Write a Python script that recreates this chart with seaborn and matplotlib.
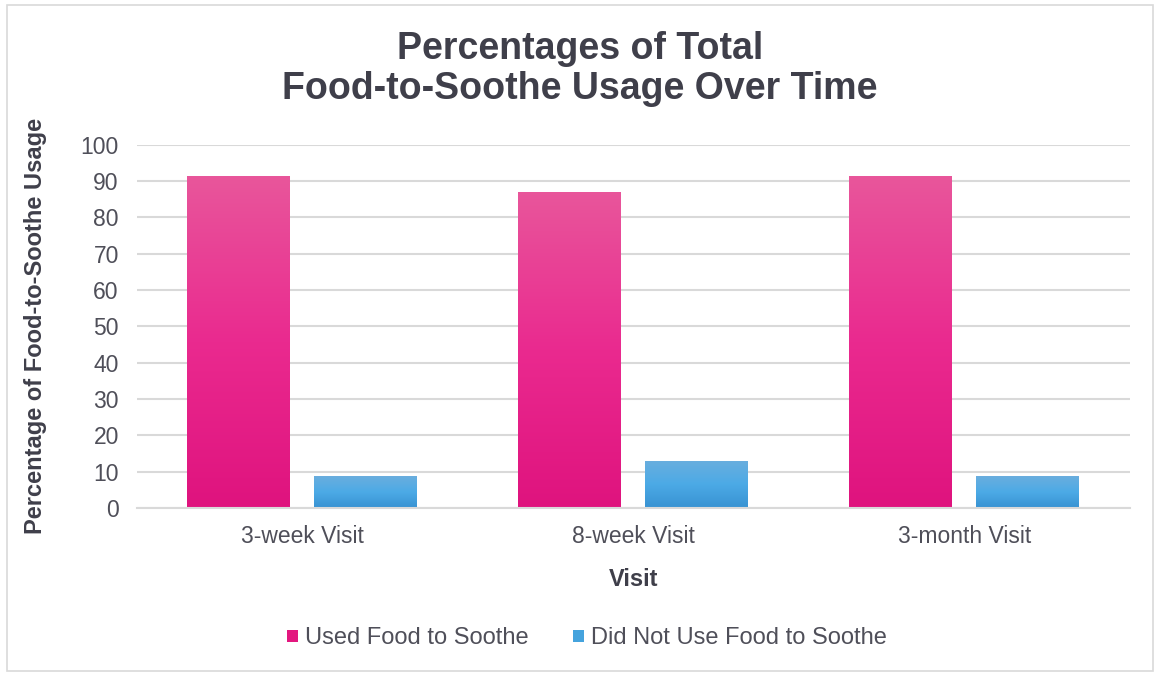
import numpy as np
import pandas as pd
import matplotlib
matplotlib.use("Agg")
import matplotlib.pyplot as plt
import seaborn as sns
from matplotlib.colors import LinearSegmentedColormap
from matplotlib.patches import Rectangle, Patch

visits = ["3-week Visit", "8-week Visit", "3-month Visit"]
used = [91.2, 87.0, 91.2]
not_used = [8.8, 13.0, 8.8]
series = ["Used Food to Soothe", "Did Not Use Food to Soothe"]
yticks = [0, 10, 20, 30, 40, 50, 60, 70, 80, 90, 100]

df = pd.DataFrame({
    "Visit": visits * 2,
    "Value": used + not_used,
    "Series": [series[0]] * 3 + [series[1]] * 3,
})

sns.set_theme(style="white")
plt.rcParams["font.family"] = ["Liberation Sans", "DejaVu Sans"]

TITLE_C = "#3F3F4A"
TICK_C = "#4F4F59"

fig = plt.figure(figsize=(11.6, 6.74), dpi=100)
ax = fig.add_axes([0.118, 0.2463, 0.856, 0.5393])

pal = {series[0]: "#E6207F", series[1]: "#4AA6E0"}
sns.barplot(data=df, x="Visit", y="Value", hue="Series", palette=pal,
            width=0.767, gap=0.19, ax=ax, legend=False, saturation=1,
            edgecolor="none", linewidth=0)

grads = {
    series[0]: LinearSegmentedColormap.from_list("p", ["#DF137E", "#EA2A8F", "#E8569B"]),
    series[1]: LinearSegmentedColormap.from_list("b", ["#3892D2", "#4CAAE6", "#6AAEDE"]),
}
grad = np.linspace(0, 1, 256).reshape(-1, 1)
bars = [p for p in ax.patches if isinstance(p, Rectangle)]
for i, p in enumerate(bars):
    s = series[0] if i < 3 else series[1]
    x0 = p.get_x()
    w, h = p.get_width(), p.get_height()
    top = max(h, 1e-6)
    # gradient spans each bar from bottom to top
    im = ax.imshow(grad, cmap=grads[s], origin="lower", aspect="auto",
                   extent=[x0, x0 + w, 0, top], zorder=p.get_zorder() + 0.1)
    im.set_clip_path(p)

ax.set_xlim(-0.5, 2.5)
ax.set_ylim(0, 100)
ax.set_yticks(yticks)
ax.set_yticklabels([str(t) for t in yticks])
ax.yaxis.grid(True, color="#D9D9D9", linewidth=1.5)
ax.set_axisbelow(True)
for sp in ["top", "right", "left"]:
    ax.spines[sp].set_visible(False)
ax.spines["bottom"].set_color("#D9D9D9")
ax.spines["bottom"].set_linewidth(1.5)
ax.tick_params(axis="both", length=0, labelsize=16.5, colors=TICK_C)
ax.tick_params(axis="x", pad=12)
ax.tick_params(axis="y", pad=13)

ax.set_xlabel("Visit", fontsize=17, fontweight="bold", color=TITLE_C, labelpad=15)
ax.set_ylabel("Percentage of Food-to-Soothe Usage", fontsize=17, fontweight="bold",
              color=TITLE_C, labelpad=24)

fig.text(0.5, 0.898, "Percentages of Total\nFood-to-Soothe Usage Over Time",
         ha="center", va="center", fontsize=27, fontweight="bold",
         color=TITLE_C, linespacing=1.15)

handles = [Patch(facecolor="#E3177F", edgecolor="none"),
           Patch(facecolor="#45A3DD", edgecolor="none")]
fig.legend(handles, series, loc="center", bbox_to_anchor=(0.506, 0.053), ncol=2,
           frameon=False, fontsize=17, labelcolor=TICK_C, handlelength=0.45,
           handleheight=0.45, handletextpad=0.3, columnspacing=1.9)

fig.patches.append(Rectangle((0.006, 0.004), 0.988, 0.988, transform=fig.transFigure,
                             fill=False, edgecolor="#D9D9D9", linewidth=1.2))

fig.savefig("out.png", dpi=100)
